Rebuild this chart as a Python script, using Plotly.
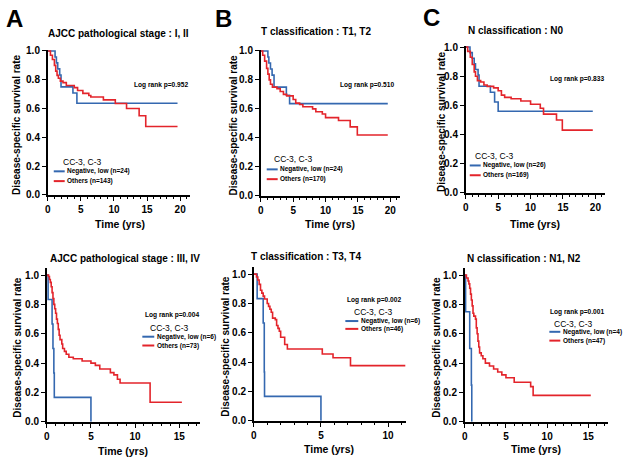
import plotly.graph_objects as go

# ---------------- data ----------------
panel_letters = ["A", "B", "C"]
panel_titles = [
    "AJCC pathological stage : I, II",
    "T classification : T1, T2",
    "N classification : N0",
    "AJCC pathological stage : III, IV",
    "T classification : T3, T4",
    "N classification : N1, N2",
]
logrank_texts = [
    "Log rank p=0.952", "Log rank p=0.510", "Log rank p=0.833",
    "Log rank p=0.004", "Log rank p=0.002", "Log rank p=0.001",
]
legend_title = "CC-3, C-3"
neg_labels = [
    "Negative, low (n=24)", "Negative, low (n=24)", "Negative, low (n=26)",
    "Negative, low (n=6)", "Negative, low (n=6)", "Negative, low (n=4)",
]
oth_labels = [
    "Others (n=143)", "Others (n=170)", "Others (n=169)",
    "Others (n=73)", "Others (n=46)", "Others (n=47)",
]
x_title = "Time (yrs)"
y_title = "Disease-specific survival rate"

# Panel A (top): stage I, II
a1_neg_t = [0, 1.1, 1.3, 1.5, 1.8, 2.0, 3.8, 4.4, 19.6]
a1_neg_s = [1, 0.958, 0.917, 0.875, 0.833, 0.75, 0.708, 0.636, 0.636]
a1_oth_t = [0, 0.4, 0.7, 1.0, 1.2, 1.4, 1.6, 1.9, 2.3, 2.8, 4.0, 4.5, 5.3, 6.2, 6.5, 8.4, 10.2, 11.9, 13.8, 14.8, 19.6]
a1_oth_s = [1, 0.97, 0.94, 0.90, 0.86, 0.83, 0.81, 0.79, 0.78, 0.76, 0.745, 0.725, 0.705, 0.69, 0.68, 0.66, 0.635, 0.60, 0.55, 0.475, 0.475]

# Panel B (top): T1, T2
b1_neg_t = [0, 1.1, 1.25, 1.5, 1.75, 2.05, 3.95, 4.45, 19.6]
b1_neg_s = [1, 0.958, 0.917, 0.875, 0.833, 0.75, 0.694, 0.636, 0.636]
b1_oth_t = [0, 0.3, 0.6, 0.9, 1.1, 1.3, 1.5, 1.8, 2.5, 3.0, 3.5, 4.0, 5.0, 5.4, 6.0, 6.5, 8.0, 8.5, 9.5, 10.0, 12.0, 13.8, 14.9, 19.6]
b1_oth_s = [1, 0.97, 0.93, 0.88, 0.84, 0.80, 0.77, 0.75, 0.74, 0.72, 0.70, 0.69, 0.665, 0.64, 0.63, 0.615, 0.60, 0.58, 0.565, 0.54, 0.52, 0.476, 0.42, 0.42]

# Panel C (top): N0
c1_neg_t = [0, 0.65, 1.0, 1.3, 1.5, 1.9, 2.05, 3.8, 4.45, 5.0, 19.6]
c1_neg_s = [1, 0.962, 0.923, 0.885, 0.846, 0.808, 0.731, 0.69, 0.623, 0.56, 0.56]
c1_oth_t = [0, 0.3, 0.7, 1.0, 1.3, 1.5, 1.8, 2.3, 2.8, 3.3, 4.3, 5.0, 5.5, 6.0, 7.0, 8.5, 10.0, 11.5, 12.0, 14.0, 14.9, 19.6]
c1_oth_s = [1, 0.97, 0.93, 0.88, 0.83, 0.80, 0.77, 0.76, 0.74, 0.73, 0.72, 0.70, 0.67, 0.655, 0.645, 0.63, 0.608, 0.58, 0.54, 0.50, 0.43, 0.43]

# Panel A (bottom): stage III, IV
a2_neg_t = [0, 0.15, 0.6, 0.7, 0.8, 0.85, 5.0]
a2_neg_s = [1, 0.833, 0.667, 0.5, 0.333, 0.167, 0]
a2_oth_t = [0, 0.2, 0.3, 0.4, 0.5, 0.6, 0.7, 0.8, 0.9, 1.0, 1.1, 1.2, 1.3, 1.4, 1.5, 1.7, 1.8, 2.0, 2.2, 2.5,
            3.0, 4.0, 5.0, 5.5, 6.0, 7.2, 7.6, 8.0, 8.3, 11.7, 15.3]
a2_oth_s = [1, 0.99, 0.97, 0.95, 0.92, 0.88, 0.84, 0.80, 0.77, 0.74, 0.70, 0.67, 0.63, 0.59, 0.56, 0.53, 0.50, 0.48, 0.46, 0.44,
            0.43, 0.415, 0.40, 0.385, 0.36, 0.335, 0.32, 0.29, 0.265, 0.133, 0.133]

# Panel B (bottom): T3, T4
b2_neg_t = [0, 0.25, 0.7, 0.78, 0.8, 5.0]
b2_neg_s = [1, 0.833, 0.667, 0.333, 0.167, 0]
b2_oth_t = [0, 0.2, 0.3, 0.4, 0.5, 0.6, 0.7, 0.8, 1.0, 1.1, 1.2, 1.3, 1.4, 1.6, 1.7, 1.8, 1.9, 2.0, 2.3, 2.5, 5.1, 5.9, 7.2, 11.3]
b2_oth_s = [1, 0.98, 0.96, 0.93, 0.89, 0.87, 0.85, 0.83, 0.80, 0.78, 0.76, 0.74, 0.70, 0.69, 0.65, 0.63, 0.61, 0.57, 0.52, 0.49, 0.456, 0.43, 0.376, 0.376]

# Panel C (bottom): N1, N2
c2_neg_t = [0, 0.1, 0.6, 0.8, 0.85]
c2_neg_s = [1, 0.75, 0.5, 0.25, 0]
c2_oth_t = [0, 0.2, 0.4, 0.5, 0.6, 0.7, 0.8, 0.9, 1.0, 1.1, 1.3, 1.4, 1.5, 1.6, 1.7, 1.8, 2.0, 2.2, 2.5, 3.0, 3.5, 4.0, 4.5, 5.0, 6.0, 8.0, 8.3, 15.3]
c2_oth_s = [1, 0.98, 0.96, 0.94, 0.91, 0.87, 0.83, 0.79, 0.74, 0.72, 0.70, 0.64, 0.60, 0.55, 0.51, 0.47, 0.45, 0.43, 0.40, 0.38, 0.36, 0.34, 0.32, 0.30, 0.27, 0.24, 0.18, 0.18]

x_ranges = [21.5, 21.5, 21.5, 17.3, 11.3, 17.4]
y_ranges = [1.01, 1.01, 1.01, 1.05, 1.05, 1.05]

series = [
    (a1_neg_t, a1_neg_s, a1_oth_t, a1_oth_s),
    (b1_neg_t, b1_neg_s, b1_oth_t, b1_oth_s),
    (c1_neg_t, c1_neg_s, c1_oth_t, c1_oth_s),
    (a2_neg_t, a2_neg_s, a2_oth_t, a2_oth_s),
    (b2_neg_t, b2_neg_s, b2_oth_t, b2_oth_s),
    (c2_neg_t, c2_neg_s, c2_oth_t, c2_oth_s),
]

# ---------------- layout (pixel geometry) ----------------
W, H = 625, 466
BLUE = "#3468b0"
RED = "#e3242b"
FONT = "Liberation Sans, Arial, sans-serif"


def px(x):
    return x / W


def py(y):
    return 1 - y / H


# plot boxes: left, right, bottom, top (pixels)
boxes = [
    (45, 188, 195, 46.5),
    (259, 399, 196, 46.5),
    (465, 605, 193, 42.5),
    (44, 197.5, 427, 269.5),
    (252, 404.5, 426, 268.5),
    (464, 608, 427, 269.5),
]
title_pos = [(116, 30), (315, 28), (515, 27), (123, 260), (304, 258), (524, 260)]
ytitle_x = [13, 232, 440, 15, 224, 436]
xtitle_pos = [(118, 225), (329, 225), (535, 225), (121, 457), (328, 455), (536, 455)]
logrank_pos = [(159, 83), (366, 83), (577, 77), (170, 318), (373, 303), (577, 315)]
# legend: (title center x, title y, swatch x0, swatch x1, blue y, red y)
legend_pos = [
    (80, 161, 51, 62, 171, 181),
    (292, 158, 265, 276, 169, 179),
    (494, 155, 469, 480, 165, 175),
    (167, 331, 140, 152, 340, 349),
    (372, 315, 344, 357, 324, 332),
    (573, 327, 549, 560, 335, 344),
]
letter_pos = [(12, 15), (222, 15), (431, 14)]

fig = go.Figure()
annotations = []
shapes = []

for i in range(6):
    k = "" if i == 0 else str(i + 1)
    nt, ns, ot, os_ = series[i]
    fig.add_trace(go.Scatter(x=nt, y=ns, mode="lines", name=neg_labels[i],
                             line=dict(color=BLUE, width=1.6, shape="hv"),
                             xaxis="x" + k, yaxis="y" + k, showlegend=False))
    fig.add_trace(go.Scatter(x=ot, y=os_, mode="lines", name=oth_labels[i],
                             line=dict(color=RED, width=1.6, shape="hv"),
                             xaxis="x" + k, yaxis="y" + k, showlegend=False))
    l, r, b, t = boxes[i]
    common = dict(showline=True, linecolor="black", linewidth=1.6, ticks="outside",
                  ticklen=4, tickwidth=1.4, tickcolor="black", showgrid=False,
                  zeroline=False, fixedrange=True,
                  tickfont=dict(family=FONT, size=10, color="black", weight="bold"))
    fig.layout["xaxis" + k] = dict(
        domain=[px(l), px(r)], range=[0, x_ranges[i]], anchor="y" + k,
        tick0=0, dtick=5,
        minor=dict(dtick=1, ticks="outside", ticklen=2.5, tickwidth=1, tickcolor="black"),
        **common)
    fig.layout["yaxis" + k] = dict(
        domain=[py(b), py(t)], range=[0, y_ranges[i]], anchor="x" + k,
        tick0=0, dtick=0.2, tickformat=".1f", **common)

    tx, ty = title_pos[i]
    annotations.append(dict(text=panel_titles[i], x=px(tx), y=py(ty), xref="paper", yref="paper",
                            showarrow=False, xanchor="center", yanchor="middle",
                            font=dict(family=FONT, size=10, color="black", weight="bold")))
    annotations.append(dict(text=y_title, x=px(ytitle_x[i]), y=py((b + t) / 2 + 2), xref="paper", yref="paper",
                            showarrow=False, textangle=-90, xanchor="center", yanchor="middle",
                            font=dict(family=FONT, size=10, color="black", weight="bold")))
    xx, xy = xtitle_pos[i]
    annotations.append(dict(text=x_title, x=px(xx), y=py(xy), xref="paper", yref="paper",
                            showarrow=False, xanchor="center", yanchor="middle",
                            font=dict(family=FONT, size=10.5, color="black", weight="bold")))
    lx, ly = logrank_pos[i]
    annotations.append(dict(text=logrank_texts[i], x=px(lx), y=py(ly), xref="paper", yref="paper",
                            showarrow=False, xanchor="center", yanchor="middle",
                            font=dict(family=FONT, size=6.6, color="black", weight="bold")))
    gx, gy, sx0, sx1, by, ry = legend_pos[i]
    annotations.append(dict(text=legend_title, x=px(gx), y=py(gy), xref="paper", yref="paper",
                            showarrow=False, xanchor="center", yanchor="middle",
                            font=dict(family=FONT, size=8.5, color="black")))
    for yy, col, lab in ((by, BLUE, neg_labels[i]), (ry, RED, oth_labels[i])):
        shapes.append(dict(type="line", xref="paper", yref="paper",
                           x0=px(sx0), x1=px(sx1), y0=py(yy), y1=py(yy),
                           line=dict(color=col, width=2)))
        annotations.append(dict(text=lab, x=px(sx1 + 0.5), y=py(yy), xref="paper", yref="paper",
                                showarrow=False, xanchor="left", yanchor="middle",
                                font=dict(family=FONT, size=6.5, color="black", weight="bold")))

for j, letter in enumerate(panel_letters):
    lx, ly = letter_pos[j]
    annotations.append(dict(text=letter, x=px(lx), y=py(ly), xref="paper", yref="paper",
                            showarrow=False, xanchor="center", yanchor="middle",
                            font=dict(family=FONT, size=24, color="black", weight="bold")))

fig.update_layout(width=W, height=H, margin=dict(l=0, r=0, t=0, b=0),
                  paper_bgcolor="white", plot_bgcolor="white",
                  annotations=annotations, shapes=shapes, showlegend=False)

fig.write_html("out.html", config={"displayModeBar": False},
               post_script="document.body.style.margin='0';")
